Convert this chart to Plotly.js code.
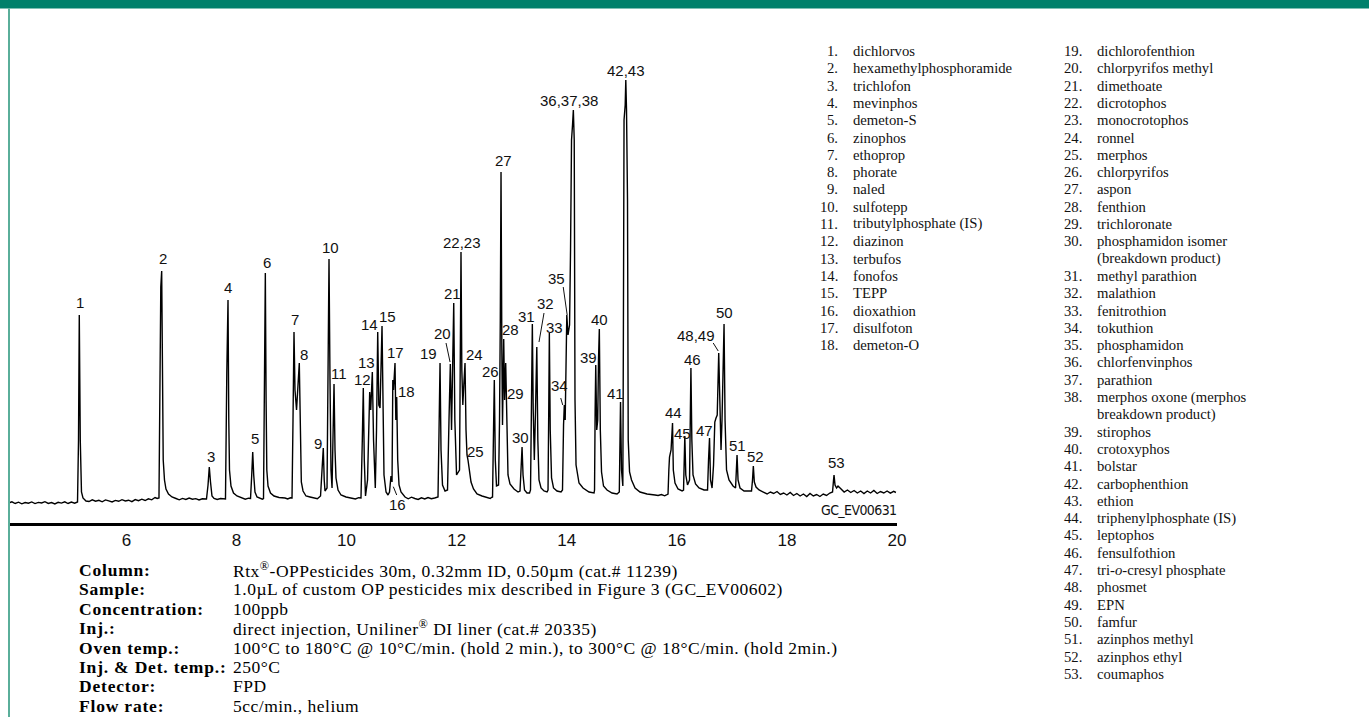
<!DOCTYPE html>
<html><head><meta charset="utf-8">
<script src="https://cdn.plot.ly/plotly-3.0.1.min.js"></script>
<style>html,body{margin:0;padding:0;background:#fff;overflow:hidden}#chart{width:1369px;height:717px;}</style>
</head><body><div id="chart"></div>
<script>
// ---- Chromatogram trace (retention time in min, detector signal) ----
const retentionTime = [
3.86,3.92,3.98,4.04,4.10,4.16,4.22,4.28,4.34,4.40,4.46,4.52,4.58,4.64,4.70,4.76,4.82,4.88,4.94,5.00,5.06,5.10,
5.112,5.130,5.144,5.162,5.184,5.211,5.266,
5.32,5.38,5.44,5.50,5.56,5.62,5.68,5.74,5.80,5.86,5.92,5.98,6.04,6.10,6.16,6.22,6.28,6.34,6.40,6.46,6.52,6.56,
6.592,6.610,6.625,6.641,6.656,6.669,6.692,6.719,6.765,6.828,6.901,
6.96,7.02,7.08,7.14,7.20,7.26,7.32,7.38,7.43,
7.455,7.483,7.506,7.528,7.555,7.592,
7.65,7.71,7.77,
7.800,7.824,7.833,7.846,7.860,7.873,7.900,7.946,8.009,8.100,
8.16,8.22,
8.255,8.277,8.295,8.313,8.336,8.373,8.427,8.47,
8.491,8.509,8.524,8.538,8.551,8.573,8.618,8.682,8.773,8.882,8.93,8.98,
9.009,9.027,9.045,9.063,9.091,9.141,9.160,9.178,9.209,9.263,9.336,9.427,9.47,
9.527,9.548,9.563,9.577,9.594,9.608,
9.645,9.663,9.681,9.699,9.717,9.736,
9.754,9.772,9.790,9.808,9.845,9.899,9.990,10.099,10.16,10.22,10.262,
10.286,10.304,10.322,10.344,
10.381,10.408,10.420,10.439,10.468,10.490,10.522,
10.544,10.566,10.586,10.608,10.644,10.662,10.680,10.717,10.753,
10.780,10.807,10.826,10.840,10.853,10.880,10.895,10.911,10.929,10.953,10.989,11.062,
11.12,11.18,11.24,11.30,11.36,11.42,11.48,11.54,11.60,11.661,
11.680,11.698,11.716,11.743,11.789,
11.834,11.861,11.885,11.907,11.925,11.947,11.967,11.998,
12.052,12.066,12.079,12.094,12.112,12.130,12.152,12.170,12.188,12.206,12.234,12.261,12.306,12.370,12.461,12.570,12.61,12.63,
12.652,12.670,12.684,12.702,12.724,
12.761,12.779,12.793,12.806,12.821,12.833,12.855,12.871,12.891,12.911,12.933,12.969,13.042,13.115,
13.151,13.169,13.188,13.206,13.233,13.278,13.324,
13.342,13.360,13.375,13.391,13.411,13.433,13.456,13.475,13.496,13.533,13.587,13.642,
13.660,13.673,13.684,13.700,13.724,13.760,13.823,13.896,
13.923,13.942,13.956,13.972,13.987,14.001,14.023,14.051,14.069,14.087,14.105,14.120,14.136,14.150,14.169,14.223,14.296,14.405,14.496,
14.505,14.516,14.527,14.545,14.563,14.577,14.592,14.610,14.632,14.668,14.732,14.823,14.914,
14.955,14.966,14.977,14.995,15.019,15.028,15.041,15.062,15.073,15.086,15.104,15.117,15.141,15.177,15.241,15.331,15.459,15.604,15.66,15.72,15.78,15.81,
15.840,15.855,15.867,15.895,15.915,15.922,15.936,15.967,16.022,16.095,
16.122,16.134,16.145,16.163,16.194,16.231,16.245,16.256,16.273,16.294,16.340,16.403,16.494,
16.558,16.576,16.594,16.612,16.640,16.667,16.690,16.712,16.734,16.761,16.781,16.803,16.821,16.839,16.858,16.876,16.903,16.948,17.021,17.067,
17.081,17.094,17.112,17.148,17.221,17.312,17.357,
17.375,17.390,17.408,17.439,17.494,17.584,
17.64,17.70,17.76,17.82,17.88,17.94,18.00,18.06,18.12,18.18,18.24,18.30,18.36,18.42,18.48,18.54,18.60,18.66,18.72,18.78,
18.829,18.847,18.856,18.874,18.902,18.929,18.983,
19.04,19.10,19.16,19.22,19.28,19.34,19.40,19.46,19.52,19.58,19.64,19.70,19.76,19.82,19.88,19.94,19.98
];
const signal = [
-3,-1.8,-3.5,-2.2,-3.8,-2.5,-3.2,-1.9,-3.6,-2.4,-3.0,-1.7,-3.4,-2.6,-3.9,-2.3,-3.1,-1.8,-3.5,-2.1,-3.2,-2.8,
-2,60,185,60,8,2,-1,
-1.5,0.2,-1.2,-0.3,-1.8,0.1,-0.9,-2.0,-0.4,-1.3,0.3,-1.0,-0.2,-1.6,0.4,-0.7,0.8,-0.5,1.2,0.2,2.5,1.5,
2,120,213,229,120,40,20,11,6,3,1.5,
0.2,1.6,0.5,1.9,0.8,1.4,0.1,1.2,0.6,
1,15,33,18,4,1.5,
0.5,1.5,0.8,
1,127,150,200,80,30,14,7,4,2,
0.8,1.8,
1.5,25,48,25,8,3,1.5,0.8,
1.5,100,227,100,30,14,7,4,2.5,2,1.0,2.2,
2,80,168,110,90,137,60,18,9,4,3,2,1.2,
4,28,32,52,20,9,
12,110,241,120,30,12,
80,116,50,22,10,5,3,2,1.0,2.3,2,
60,112,40,4,
20,95,108,90,128,60,12,
70,168,95,92,174,70,25,8,5,
8,24,18,120,110,137,80,103,40,15,8,3,
1.2,2.8,1.5,0.6,2.2,1.0,2.5,1.3,2.0,3,
70,137,50,15,9,
10,80,136,70,120,197,80,25,
30,140,248,130,95,115,137,70,45,40,28,18,11,6,4,2.5,1.5,2.5,
3,70,120,40,14,
15,80,180,328,150,75,161,100,137,60,25,16,11,8,
9,30,53,25,10,7,7,
10,90,176,90,40,90,153,60,20,12,9,8,
10,90,167,70,22,12,9,8,
10,75,95,80,150,185,165,175,250,360,375,390,360,100,35,17,12,8,7,
10,90,135,70,80,140,171,70,28,14,10,7,6,
8,60,98,30,14,150,380,395,420,390,300,60,28,20,12,8,6,5,4.5,5.5,4.2,5.0,
6,30,43,50,70,77,30,17,11,9,
10,45,64,25,15,20,90,132,60,25,16,12,10,
10,40,62,20,12,35,78,82,85,147,80,50,80,140,176,80,30,20,14,12,
25,45,20,12,9,9,9,
20,34,18,13,10,8,
6,8,6.5,8.5,5.5,7,5,7.5,4.5,6.5,4,6,3.5,6.5,4,5.5,3.5,6,4.5,7,
8,20,25,15,12,14,11,
8,10,7.5,9.5,7,9,6.5,9,7,9.5,6.5,8.5,7,9,6.8,8.6,7.5
];
const tickValues = [6, 8, 10, 12, 14, 16, 18, 20];
const chartCode = "GC_EV00631";

// ---- Peak identification ----
const compoundNames = [
"dichlorvos","hexamethylphosphoramide","trichlofon","mevinphos","demeton-S","zinophos","ethoprop","phorate","naled",
"sulfotepp","tributylphosphate (IS)","diazinon","terbufos","fonofos","TEPP","dioxathion","disulfoton","demeton-O",
"dichlorofenthion","chlorpyrifos methyl","dimethoate","dicrotophos","monocrotophos","ronnel","merphos","chlorpyrifos",
"aspon","fenthion","trichloronate","phosphamidon isomer|(breakdown product)","methyl parathion","malathion","fenitrothion",
"tokuthion","phosphamidon","chlorfenvinphos","parathion","merphos oxone (merphos|breakdown product)","stirophos",
"crotoxyphos","bolstar","carbophenthion","ethion","triphenylphosphate (IS)","leptophos","fensulfothion",
"tri-<i>o</i>-cresyl phosphate","phosmet","EPN","famfur","azinphos methyl","azinphos ethyl","coumaphos"
];
const infoLabels = ["Column:","Sample:","Concentration:","Inj.:","Oven temp.:","Inj. &amp; Det. temp.:","Detector:","Flow rate:"];
const infoValues = [
"Rtx<sup>®</sup>-OPPesticides 30m, 0.32mm ID, 0.50µm (cat.# 11239)",
"1.0µL of custom OP pesticides mix described in Figure 3 (GC_EV00602)",
"100ppb",
"direct injection, Uniliner<sup>®</sup> DI liner (cat.# 20335)",
"100°C to 180°C @ 10°C/min. (hold 2 min.), to 300°C @ 18°C/min. (hold 2min.)",
"250°C",
"FPD",
"5cc/min., helium"
];

// ---- Peak label placement (time, signal) ----
const labelPlacement = [
["1",5.157,198],["2",6.665,242],["3",7.537,44],["4",7.846,213],["5",8.336,62],["6",8.555,238],
["7",9.063,181],["8",9.226,146],["9",9.481,57],["10",9.699,253],["11",9.863,127],["12",10.281,121],
["13",10.371,138],["14",10.408,176],["15",10.735,184],["16",10.934,-4],["17",10.880,148],["18",11.080,109],
["19",11.480,147],["20",11.734,167],["21",11.916,207],["22,23",12.097,258],["24",12.319,146],["25",12.337,49],
["26",12.606,129],["27",12.842,340],["28",12.973,171],["29",13.060,107],["30",13.155,63],["31",13.264,184],
["32",13.605,197],["33",13.769,173],["34",13.860,115],["35",13.805,222],["36,37,38",14.041,400],
["39",14.390,143],["40",14.590,181],["41",14.877,107],["42,43",15.077,430],["44",15.931,88],["45",16.098,67],
["46",16.280,141],["47",16.498,70],["48,49",16.352,165],["50",16.858,188],["51",17.094,55],["52",17.421,44],
["53",18.892,38]
];
const pointerLines = [
[10.849,13.3,10.911,5],[11.807,157,11.880,138],[13.587,187,13.496,158],
[13.891,102,13.927,95],[13.936,213,14.008,185],[16.661,157,16.752,149]
];

// ---- Page geometry (pixels) ----
const L = 8, R = 897, T = 20, B = 523, W = 1369, H = 717;
const pxX = x => (x - L) / (R - L);
const pxY = y => (B - y) / (B - T);

const sans = "Liberation Sans, Arial, Helvetica, sans-serif";
const serif = "Liberation Serif, Times New Roman, serif";
const annotations = [];

labelPlacement.forEach(([txt, t, s]) => annotations.push({
  xref: "x", yref: "y", x: t, y: s, text: txt, showarrow: false, borderpad: 0,
  xanchor: "center", yanchor: "middle", font: {family: sans, size: 15, color: "#111"}
}));

annotations.push({xref: "paper", yref: "paper", x: pxX(898), y: pxY(510),
  text: '<span style="letter-spacing:-0.6px">' + chartCode + '</span>', showarrow: false, borderpad: 0,
  xanchor: "right", yanchor: "middle",
  font: {family: "DejaVu Sans Condensed, Liberation Sans Narrow, Arial Narrow, sans-serif", size: 14, color: "#111"}});

infoLabels.forEach((lab, i) => {
  const y = 570 + 19.4 * i;
  annotations.push({xref: "paper", yref: "paper", x: pxX(78), y: pxY(y),
    text: '<span style="letter-spacing:0.8px"><b>' + lab + '</b></span>',
    showarrow: false, borderpad: 0, xanchor: "left", yanchor: "middle", font: {family: serif, size: 17.5, color: "#000"}});
  annotations.push({xref: "paper", yref: "paper", x: pxX(232), y: pxY(y),
    text: '<span style="letter-spacing:0.5px">' + infoValues[i] + '</span>',
    showarrow: false, borderpad: 0, xanchor: "left", yanchor: "middle", font: {family: serif, size: 17.5, color: "#000"}});
});

// compound list in two columns
let row = 0;
compoundNames.forEach((name, i) => {
  const col2 = i >= 18;
  if (i === 18) row = 0;
  const numX = col2 ? 1083 : 839, txtX = col2 ? 1096 : 852;
  const parts = name.split("|");
  const y = 51 + 17.3 * row;
  annotations.push({xref: "paper", yref: "paper", x: pxX(numX), y: pxY(y), text: (i + 1) + ".",
    showarrow: false, borderpad: 0, xanchor: "right", yanchor: "middle", font: {family: serif, size: 14.7, color: "#111"}});
  parts.forEach((p, k) => {
    annotations.push({xref: "paper", yref: "paper", x: pxX(txtX), y: pxY(y + 17.3 * k), text: p,
      showarrow: false, borderpad: 0, xanchor: "left", yanchor: "middle", font: {family: serif, size: 14.7, color: "#111"}});
  });
  row += parts.length;
});

const shapes = [
  {type: "rect", xref: "paper", yref: "paper", x0: pxX(0), x1: pxX(W), y0: pxY(8.5), y1: pxY(0),
   fillcolor: "#00806b", line: {width: 0}, layer: "above"},
  {type: "line", xref: "paper", yref: "paper", x0: pxX(9), x1: pxX(9), y0: pxY(H), y1: pxY(8.5),
   line: {color: "#5aae9a", width: 2}}
];
pointerLines.forEach(([x0, y0, x1, y1]) => shapes.push({type: "line", xref: "x", yref: "y",
  x0, y0, x1, y1, line: {color: "#111", width: 1}}));

const trace = {
  x: retentionTime, y: signal, type: "scatter", mode: "lines",
  line: {color: "#000", width: 1.4, shape: "linear"}, hoverinfo: "skip"
};

const layout = {
  width: W, height: H, autosize: false,
  margin: {l: L, r: W - R, t: T, b: H - B, pad: 0},
  paper_bgcolor: "#fff", plot_bgcolor: "#fff", showlegend: false,
  xaxis: {range: [3.849, 20.0], tickvals: tickValues, ticktext: tickValues.map(String),
    showline: true, linecolor: "#000", linewidth: 3, ticks: "", showgrid: false, zeroline: false,
    ticklabelstandoff: 0, tickfont: {family: sans, size: 17, color: "#111"}, fixedrange: true},
  yaxis: {range: [-23, 480], visible: false, fixedrange: true},
  annotations, shapes
};

Plotly.newPlot("chart", [trace], layout, {staticPlot: true, displayModeBar: false});
</script>
</body></html>
